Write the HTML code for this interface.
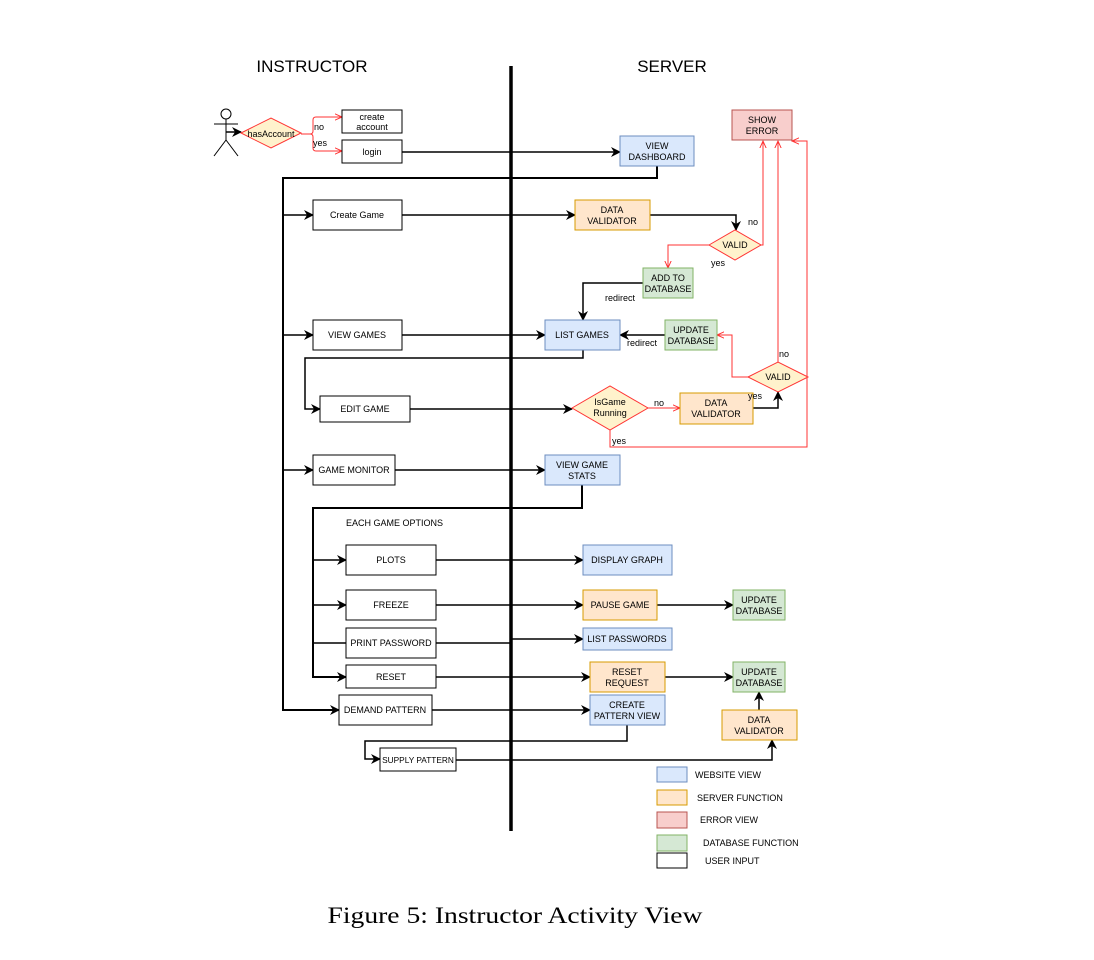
<!DOCTYPE html>
<html><head><meta charset="utf-8"><style>
body{margin:0;background:#fff}
svg text{font-family:"Liberation Sans",sans-serif;font-size:9px;fill:#000}
</style></head><body>
<svg width="1094" height="955" viewBox="0 0 1094 955" xmlns="http://www.w3.org/2000/svg">
<defs>
<marker id="a" viewBox="0 0 10 10" refX="9" refY="5" markerWidth="10" markerHeight="10" markerUnits="userSpaceOnUse" orient="auto"><path d="M0,0 L10,5 L0,10 L3,5 Z" fill="#000"/></marker>
<marker id="r" viewBox="0 0 10 10" refX="9" refY="5" markerWidth="8" markerHeight="8" markerUnits="userSpaceOnUse" orient="auto"><path d="M0,1 L9,5 L0,9" fill="none" stroke="#f33" stroke-width="1.2"/></marker>
</defs>
<text x="312" y="72" text-anchor="middle" style="font-size:17px">INSTRUCTOR</text>
<text x="672" y="72" text-anchor="middle" style="font-size:17px">SERVER</text>
<line x1="511" y1="66" x2="511" y2="831" stroke="#000" stroke-width="3.5"/>
<g stroke="#000" fill="none" stroke-width="1">
<circle cx="226" cy="114" r="5"/><line x1="226" y1="119" x2="226" y2="140"/><line x1="214" y1="124" x2="238" y2="124"/>
<line x1="226" y1="140" x2="214" y2="156"/><line x1="226" y1="140" x2="238" y2="156"/>
</g>
<g stroke="#000" stroke-width="1.5" fill="none">
<line x1="226" y1="132" x2="241" y2="132" marker-end="url(#a)"/>
<line x1="402" y1="152" x2="620" y2="152" marker-end="url(#a)"/>
<polyline points="657,166 657,178 283,178 283,710 339,710" stroke-width="2" marker-end="url(#a)"/>
<line x1="283" y1="215" x2="313" y2="215" marker-end="url(#a)"/>
<line x1="402" y1="215" x2="575" y2="215" marker-end="url(#a)"/>
<polyline points="650,215 736,215 736,230" marker-end="url(#a)"/>
<polyline points="643,283 583,283 583,320" marker-end="url(#a)"/>
<line x1="283" y1="335" x2="313" y2="335" marker-end="url(#a)"/>
<line x1="402" y1="335" x2="545" y2="335" marker-end="url(#a)"/>
<line x1="665" y1="335" x2="620" y2="335" marker-end="url(#a)"/>
<polyline points="583,350 583,358 305,358 305,409 320,409" marker-end="url(#a)"/>
<line x1="410" y1="409" x2="572" y2="409" marker-end="url(#a)"/>
<polyline points="753,408 778,408 778,392" marker-end="url(#a)"/>
<line x1="283" y1="470" x2="313" y2="470" marker-end="url(#a)"/>
<line x1="395" y1="470" x2="545" y2="470" marker-end="url(#a)"/>
<polyline points="582,485 582,508 313,508 313,677 346,677" stroke-width="2" marker-end="url(#a)"/>
<line x1="313" y1="560" x2="346" y2="560" marker-end="url(#a)"/>
<line x1="436" y1="560" x2="583" y2="560" marker-end="url(#a)"/>
<line x1="313" y1="605" x2="346" y2="605" marker-end="url(#a)"/>
<line x1="436" y1="605" x2="583" y2="605" marker-end="url(#a)"/>
<line x1="657" y1="605" x2="733" y2="605" marker-end="url(#a)"/>
<line x1="313" y1="643" x2="346" y2="643"/>
<polyline points="436,643 511,643 511,639 583,639" marker-end="url(#a)"/>
<line x1="436" y1="677" x2="590" y2="677" marker-end="url(#a)"/>
<line x1="665" y1="677" x2="733" y2="677" marker-end="url(#a)"/>
<line x1="432" y1="710" x2="590" y2="710" marker-end="url(#a)"/>
<line x1="759" y1="710" x2="759" y2="692" marker-end="url(#a)"/>
<polyline points="627,725 627,741 365,741 365,759 380,759" marker-end="url(#a)"/>
<polyline points="456,760 772,760 772,740" marker-end="url(#a)"/>
</g>
<g stroke="#f33" stroke-width="1" fill="none">
<path d="M301,134 H310 Q313,134 313,131 V120 Q313,117 316,117 H342" marker-end="url(#r)"/>
<path d="M301,134 H310 Q313,134 313,137 V148 Q313,151 316,151 H342" marker-end="url(#r)"/>
<polyline points="761,245 763,245 763,141" marker-end="url(#r)"/>
<polyline points="709,245 668,245 668,268" marker-end="url(#r)"/>
<polyline points="748,377 732,377 732,335 717,335" marker-end="url(#r)"/>
<line x1="778" y1="362" x2="778" y2="141" marker-end="url(#r)"/>
<line x1="648" y1="408" x2="680" y2="408" marker-end="url(#r)"/>
<polyline points="610,430 610,447 807,447 807,141 792,141" marker-end="url(#r)"/>
</g>
<g fill="#fff2cc" stroke="#f33" stroke-width="1">
<polygon points="241,133 271,118 301,133 271,148"/>
<polygon points="709,245 735,230 761,245 735,260"/>
<polygon points="748,377 778,362 808,377 778,392"/>
<polygon points="572,408 610,386 648,408 610,430"/>
</g>
<g stroke-width="1">
<rect x="342" y="110" width="60" height="23" fill="#fff" stroke="#000"/>
<rect x="342" y="140" width="60" height="23" fill="#fff" stroke="#000"/>
<rect x="620" y="136" width="74" height="30" fill="#dae8fc" stroke="#6c8ebf"/>
<rect x="732" y="110" width="60" height="30" fill="#f8cecc" stroke="#b85450"/>
<rect x="313" y="200" width="89" height="30" fill="#fff" stroke="#000"/>
<rect x="575" y="200" width="75" height="30" fill="#ffe6cc" stroke="#d79b00"/>
<rect x="643" y="268" width="50" height="30" fill="#d5e8d4" stroke="#82b366"/>
<rect x="313" y="320" width="89" height="30" fill="#fff" stroke="#000"/>
<rect x="545" y="320" width="75" height="30" fill="#dae8fc" stroke="#6c8ebf"/>
<rect x="665" y="320" width="52" height="30" fill="#d5e8d4" stroke="#82b366"/>
<rect x="320" y="396" width="90" height="26" fill="#fff" stroke="#000"/>
<rect x="680" y="393" width="73" height="31" fill="#ffe6cc" stroke="#d79b00"/>
<rect x="313" y="455" width="82" height="30" fill="#fff" stroke="#000"/>
<rect x="545" y="455" width="75" height="30" fill="#dae8fc" stroke="#6c8ebf"/>
<rect x="346" y="545" width="90" height="30" fill="#fff" stroke="#000"/>
<rect x="583" y="545" width="89" height="30" fill="#dae8fc" stroke="#6c8ebf"/>
<rect x="346" y="590" width="90" height="30" fill="#fff" stroke="#000"/>
<rect x="583" y="590" width="74" height="30" fill="#ffe6cc" stroke="#d79b00"/>
<rect x="733" y="590" width="52" height="30" fill="#d5e8d4" stroke="#82b366"/>
<rect x="346" y="628" width="90" height="30" fill="#fff" stroke="#000"/>
<rect x="583" y="628" width="89" height="22" fill="#dae8fc" stroke="#6c8ebf"/>
<rect x="346" y="665" width="90" height="23" fill="#fff" stroke="#000"/>
<rect x="590" y="662" width="75" height="30" fill="#ffe6cc" stroke="#d79b00"/>
<rect x="733" y="662" width="52" height="30" fill="#d5e8d4" stroke="#82b366"/>
<rect x="339" y="695" width="93" height="30" fill="#fff" stroke="#000"/>
<rect x="590" y="695" width="75" height="30" fill="#dae8fc" stroke="#6c8ebf"/>
<rect x="722" y="710" width="75" height="30" fill="#ffe6cc" stroke="#d79b00"/>
<rect x="380" y="748" width="76" height="23" fill="#fff" stroke="#000"/>
<rect x="657" y="767" width="30" height="15" fill="#dae8fc" stroke="#6c8ebf"/>
<rect x="657" y="790" width="30" height="15" fill="#ffe6cc" stroke="#d79b00"/>
<rect x="657" y="812" width="30" height="16" fill="#f8cecc" stroke="#b85450"/>
<rect x="657" y="835" width="30" height="16" fill="#d5e8d4" stroke="#82b366"/>
<rect x="657" y="853" width="30" height="15" fill="#fff" stroke="#000"/>
</g>
<g text-anchor="middle">
<text x="271" y="137">hasAccount</text>
<text x="372" y="120">create</text><text x="372" y="130">account</text>
<text x="372" y="155">login</text>
<text x="657" y="149">VIEW</text><text x="657" y="160">DASHBOARD</text>
<text x="762" y="123">SHOW</text><text x="762" y="134">ERROR</text>
<text x="357" y="218">Create Game</text>
<text x="612" y="213">DATA</text><text x="612" y="224">VALIDATOR</text>
<text x="735" y="248">VALID</text>
<text x="668" y="281">ADD TO</text><text x="668" y="292">DATABASE</text>
<text x="357" y="338">VIEW GAMES</text>
<text x="582" y="338">LIST GAMES</text>
<text x="691" y="333">UPDATE</text><text x="691" y="344">DATABASE</text>
<text x="778" y="380">VALID</text>
<text x="365" y="412">EDIT GAME</text>
<text x="610" y="405">IsGame</text><text x="610" y="416">Running</text>
<text x="716" y="406">DATA</text><text x="716" y="417">VALIDATOR</text>
<text x="354" y="473">GAME MONITOR</text>
<text x="582" y="468">VIEW GAME</text><text x="582" y="479">STATS</text>
<text x="391" y="563">PLOTS</text>
<text x="627" y="563">DISPLAY GRAPH</text>
<text x="391" y="608">FREEZE</text>
<text x="620" y="608">PAUSE GAME</text>
<text x="759" y="603">UPDATE</text><text x="759" y="614">DATABASE</text>
<text x="391" y="646">PRINT PASSWORD</text>
<text x="627" y="642">LIST PASSWORDS</text>
<text x="391" y="680">RESET</text>
<text x="627" y="675">RESET</text><text x="627" y="686">REQUEST</text>
<text x="759" y="675">UPDATE</text><text x="759" y="686">DATABASE</text>
<text x="385" y="713">DEMAND PATTERN</text>
<text x="627" y="708">CREATE</text><text x="627" y="719">PATTERN VIEW</text>
<text x="759" y="723">DATA</text><text x="759" y="734">VALIDATOR</text>
<text x="418" y="763" style="font-size:8.3px">SUPPLY PATTERN</text>
</g>
<text x="314" y="130">no</text><text x="313" y="146">yes</text>
<text x="748" y="225">no</text><text x="711" y="266">yes</text>
<text x="605" y="301">redirect</text><text x="627" y="346">redirect</text>
<text x="779" y="357">no</text><text x="748" y="399">yes</text>
<text x="654" y="406">no</text><text x="612" y="444">yes</text>
<text x="346" y="526">EACH GAME OPTIONS</text>
<text x="695" y="778">WEBSITE VIEW</text>
<text x="697" y="801">SERVER FUNCTION</text>
<text x="700" y="823">ERROR VIEW</text>
<text x="703" y="846">DATABASE FUNCTION</text>
<text x="705" y="864">USER INPUT</text>
<text x="515" y="923" text-anchor="middle" textLength="375" lengthAdjust="spacingAndGlyphs" style="font-family:'Liberation Serif',serif;font-size:23px">Figure 5: Instructor Activity View</text>
</svg>
</body></html>
